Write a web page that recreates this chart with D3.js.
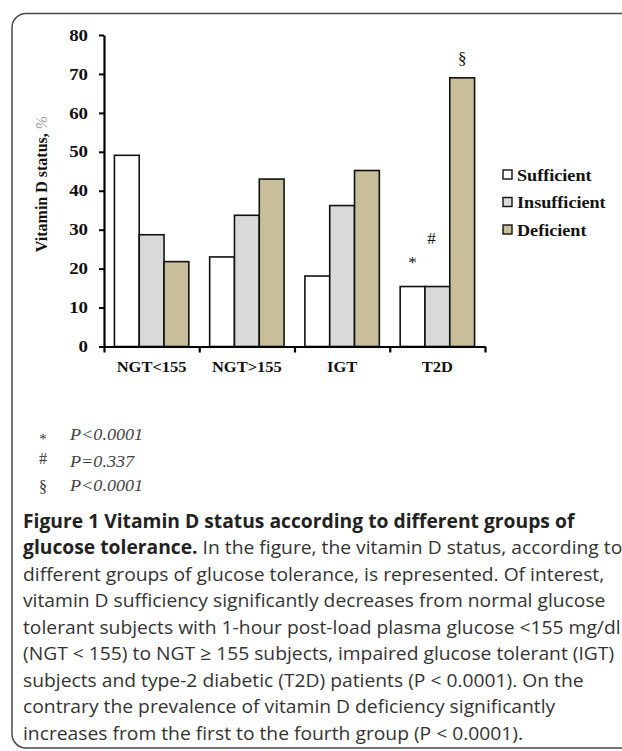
<!DOCTYPE html>
<html>
<head>
<meta charset="utf-8">
<script src="https://cdn.jsdelivr.net/npm/d3@7"></script>
<style>
  html, body { margin: 0; padding: 0; background: #fff; }
  svg { display: block; }
</style>
</head>
<body>
<svg id="chart" width="622" height="751"></svg>
<script>
// ---- data ----
const categories = ["NGT<155", "NGT>155", "IGT", "T2D"];
const seriesNames = ["Sufficient", "Insufficient", "Deficient"];
const sufficient   = [49.1, 23.0, 18.1, 15.4];
const insufficient = [28.7, 33.7, 36.2, 15.4];
const deficient    = [21.8, 43.0, 45.2, 69.0];
const yTicks = [0, 10, 20, 30, 40, 50, 60, 70, 80];
const yTitle = "Vitamin D status,";
const yUnit = "%";
const t2dMarks = [["Sufficient", "*"], ["Insufficient", "#"], ["Deficient", "§"]];
const pNotes = [["*", "P<0.0001"], ["#", "P=0.337"], ["§", "P<0.0001"]];
const captionLines = [
  ["Figure 1 Vitamin D status according to different groups of", ""],
  ["glucose tolerance.", " In the figure, the vitamin D status, according to"],
  ["", "different groups of glucose tolerance, is represented. Of interest,"],
  ["", "vitamin D sufficiency significantly decreases from normal glucose"],
  ["", "tolerant subjects with 1-hour post-load plasma glucose <155 mg/dl"],
  ["", "(NGT < 155) to NGT \u2265 155 subjects, impaired glucose tolerant (IGT)"],
  ["", "subjects and type-2 diabetic (T2D) patients (P < 0.0001). On the"],
  ["", "contrary the prevalence of vitamin D deficiency significantly"],
  ["", "increases from the first to the fourth group (P < 0.0001)."]
];

const seriesValues = { Sufficient: sufficient, Insufficient: insufficient, Deficient: deficient };
const colors = d3.scaleOrdinal().domain(seriesNames).range(["#ffffff", "#d9d9d9", "#c8bf9a"]);

// ---- layout ----
const svg = d3.select("#chart");
const SERIF = "'Liberation Serif', 'Times New Roman', serif";
const SANS = "'Open Sans', 'Noto Sans', sans-serif";

// frame
svg.append("rect")
  .attr("x", 12).attr("y", 13.5)
  .attr("width", 660).attr("height", 734.5)
  .attr("rx", 14).attr("ry", 14)
  .attr("fill", "none").attr("stroke", "#4a4a4a").attr("stroke-width", 1.5);

const x0 = d3.scaleBand().domain(categories).range([104, 485]).paddingInner(0).paddingOuter(0);
const x1 = d3.scaleBand().domain(seriesNames).range([0, x0.bandwidth()]).paddingInner(0).paddingOuter(0.42);
const y = d3.scaleLinear().domain([0, 80]).range([346.5, 35]);

const plot = svg.append("g");

// bars
const rows = categories.map((c, i) => ({ cat: c, vals: seriesNames.map(s => ({ s, v: seriesValues[s][i] })) }));
plot.selectAll("g.grp").data(rows).join("g")
  .attr("class", "grp")
  .attr("transform", d => `translate(${x0(d.cat)},0)`)
  .selectAll("rect").data(d => d.vals).join("rect")
  .attr("x", d => x1(d.s))
  .attr("y", d => y(d.v))
  .attr("width", x1.bandwidth())
  .attr("height", d => y(0) - y(d.v))
  .attr("fill", d => colors(d.s))
  .attr("stroke", "#111").attr("stroke-width", 1.6);

// y axis
const yAxisG = plot.append("g").attr("transform", `translate(${x0.range()[0]},0)`)
  .call(d3.axisLeft(y).tickValues(yTicks).tickSize(5).tickSizeOuter(0).tickPadding(11));
yAxisG.select(".domain").attr("stroke", "#000").attr("stroke-width", 2.2);
yAxisG.selectAll(".tick line").attr("stroke", "#000").attr("stroke-width", 2);
yAxisG.selectAll(".tick text")
  .attr("font-family", SERIF).attr("font-weight", "bold").attr("font-size", 16).attr("fill", "#111")
  .each(function () {
    const t = d3.select(this);
    const xx = +t.attr("x");
    t.attr("x", 0).attr("transform", `translate(${xx},0) scale(1.18,1)`);
  });

// x axis: boundary ticks
const xEdge = d3.scaleLinear().domain([0, categories.length]).range(x0.range());
const xAxisG = plot.append("g").attr("transform", `translate(0,${y(0)})`)
  .call(d3.axisBottom(xEdge).ticks(categories.length).tickFormat("").tickSize(6).tickSizeOuter(0));
xAxisG.select(".domain").attr("stroke", "#000").attr("stroke-width", 2.2);
xAxisG.selectAll(".tick line").attr("stroke", "#000").attr("stroke-width", 2.2);

// x labels
const xLabG = plot.append("g").attr("transform", `translate(0,${y(0)})`)
  .call(d3.axisBottom(x0).tickSize(0).tickPadding(15));
xLabG.select(".domain").remove();
xLabG.selectAll(".tick text")
  .attr("font-family", SERIF).attr("font-weight", "bold").attr("font-size", 15).attr("fill", "#111")
  .attr("transform", "scale(1.1,1)")
  .each(function () {
    const t = d3.select(this);
    t.attr("transform", "scale(1.1,1)");
  });
// scale about tick center: tick text x=0 at tick centre, so scale works

// y title
const yt = svg.append("text")
  .attr("transform", `translate(47,184) rotate(-90)`)
  .attr("text-anchor", "middle")
  .attr("font-family", SERIF).attr("font-size", 16);
yt.append("tspan").attr("font-weight", "bold").attr("fill", "#111").text(yTitle + " ");
yt.append("tspan").attr("font-style", "italic").attr("fill", "#9a9a9a").text(yUnit);

// T2D significance marks
const markOffset = { "*": 19, "#": 43, "§": 14 };
const markDx = { "*": 0, "#": -6, "§": 0 };
t2dMarks.forEach(([s, m]) => {
  const i = categories.indexOf("T2D");
  const cx = x0("T2D") + x1(s) + x1.bandwidth() / 2 + markDx[m];
  plot.append("text")
    .attr("x", cx).attr("y", y(seriesValues[s][i]) - markOffset[m])
    .attr("text-anchor", "middle")
    .attr("font-family", SERIF).attr("font-size", 17).attr("fill", "#111")
    .text(m);
});

// legend
const lg = svg.append("g").attr("transform", "translate(503,174.5)");
seriesNames.forEach((s, i) => {
  const row = lg.append("g").attr("transform", `translate(0,${i * 27.5})`);
  row.append("rect").attr("x", 0).attr("y", -4.5).attr("width", 9).attr("height", 9)
    .attr("fill", colors(s)).attr("stroke", "#111").attr("stroke-width", 1.4);
  row.append("text")
    .attr("transform", "translate(14,6) scale(1.1,1)")
    .attr("font-family", SERIF).attr("font-weight", "bold").attr("font-size", 16.5).attr("fill", "#111")
    .text(s);
});

// p-value notes
const pY = [[443.5, 439.5], [464, 467], [492, 490.5]];
pNotes.forEach(([sym, txt], i) => {
  svg.append("text").attr("x", 43).attr("y", pY[i][0]).attr("text-anchor", "middle")
    .attr("font-family", SERIF).attr("font-size", sym === "*" ? 15 : 16).attr("fill", "#333").text(sym);
  svg.append("text").attr("transform", `translate(70,${pY[i][1]}) scale(1.1,1)`)
    .attr("font-family", SERIF).attr("font-style", "italic").attr("font-size", 16.5).attr("fill", "#444").text(txt);
});

// caption
const capG = svg.append("g");
const capTexts = captionLines.map((parts, i) => {
  const t = capG.append("text").attr("x", 0).attr("y", 0)
    .attr("font-family", SANS).attr("font-size", 19).attr("fill", "#333");
  if (parts[0]) t.append("tspan").attr("font-weight", "bold").attr("fill", "#222").text(parts[0]);
  if (parts[1]) t.append("tspan").text(parts[1]);
  return t;
});
// fit widest line (line 5) to caption column width
const target = 598;
const w5 = capTexts[4].node().getComputedTextLength();
const kx = target / w5;
capTexts.forEach((t, i) => t.attr("transform", `translate(23,${528 + i * 26.45}) scale(${kx},1)`));
</script>
</body>
</html>
